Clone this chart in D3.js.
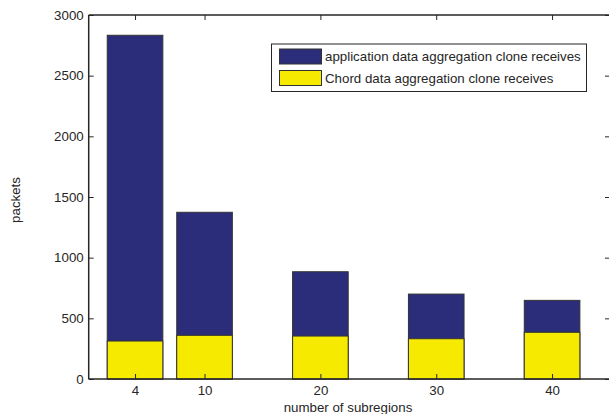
<!DOCTYPE html>
<html><head><meta charset="utf-8">
<script src="https://cdn.jsdelivr.net/npm/d3@7"></script>
<style>body{margin:0;background:#fff}svg{display:block}text{font-family:"Liberation Sans",Arial,sans-serif;fill:#262626}</style>
</head><body><svg id="c" width="609" height="414"></svg>
<script>
const categories = [4, 10, 20, 30, 40];
const appValues = [2833, 1374, 884, 700, 648];
const chordValues = [313, 360, 354, 332, 385];
const yTicks = [0, 500, 1000, 1500, 2000, 2500, 3000];
const seriesNames = ["application data aggregation clone receives", "Chord data aggregation clone receives"];
const colors = ["#2b2d7b", "#f6ea00"];

const svg = d3.select("#c");
const L = 88.7, R = 610, T = 15, B = 379;
const FS = 13.3;
const x = d3.scaleLinear().domain([0, 45]).range([L, R]);
const y = d3.scaleLinear().domain([0, 3000]).range([B, T]);
const bw = x(4.8) - x(0);

const g = svg.append("g");
[appValues, chordValues].forEach((vals, si) => {
  g.selectAll(null).data(categories).enter().append("rect")
    .attr("x", (d) => x(d) - bw / 2)
    .attr("width", bw)
    .attr("y", (d, i) => y(vals[i]))
    .attr("height", (d, i) => y(0) - y(vals[i]))
    .attr("fill", colors[si])
    .attr("stroke", "#333")
    .attr("stroke-width", 1);
});

const ax = svg.append("g").attr("transform", `translate(0,${B})`)
  .call(d3.axisBottom(x).tickValues(categories).tickSize(-5).tickPadding(7));
const axT = svg.append("g").attr("transform", `translate(0,${T})`)
  .call(d3.axisTop(x).tickValues(categories).tickSize(-5).tickFormat(""));
const ayL = svg.append("g").attr("transform", `translate(${L},0)`)
  .call(d3.axisLeft(y).tickValues(yTicks).tickSize(-5).tickPadding(5).tickFormat(d3.format("d")));
const ayR = svg.append("g").attr("transform", `translate(${R},0)`)
  .call(d3.axisRight(y).tickValues(yTicks).tickSize(-5).tickFormat(""));
[ax, axT, ayL, ayR].forEach(a => {
  a.select(".domain").attr("stroke", "#262626").attr("stroke-width", 1.5);
  a.selectAll(".tick line").attr("stroke", "#262626");
  a.selectAll("text").attr("font-size", FS).attr("fill", "#262626")
    .style("font-family", '"Liberation Sans",Arial,sans-serif');
});
ax.select(".domain").attr("d", `M${L},0H${R}`);
axT.select(".domain").attr("d", `M${L},0H${R}`);
ayL.select(".domain").attr("d", `M0,${B}V${T}`);
ayR.select(".domain").attr("d", `M0,${B}V${T}`);

svg.append("text").attr("x", 348).attr("y", 412).attr("text-anchor", "middle")
  .attr("font-size", FS).text("number of subregions");
svg.append("text").attr("transform", "translate(19.5,200) rotate(-90)").attr("text-anchor", "middle")
  .attr("font-size", FS).text("packets");

const lg = svg.append("g");
lg.append("rect").attr("x", 271.5).attr("y", 44).attr("width", 315).attr("height", 47.5)
  .attr("fill", "#fff").attr("stroke", "#262626").attr("stroke-width", 1);
seriesNames.forEach((n, i) => {
  const yy = 49 + i * 21.5;
  lg.append("rect").attr("x", 279.5).attr("y", yy).attr("width", 42).attr("height", 15)
    .attr("fill", colors[i]).attr("stroke", "#333");
  lg.append("text").attr("x", 325).attr("y", yy + 12).attr("font-size", FS).text(n);
});
</script></body></html>
